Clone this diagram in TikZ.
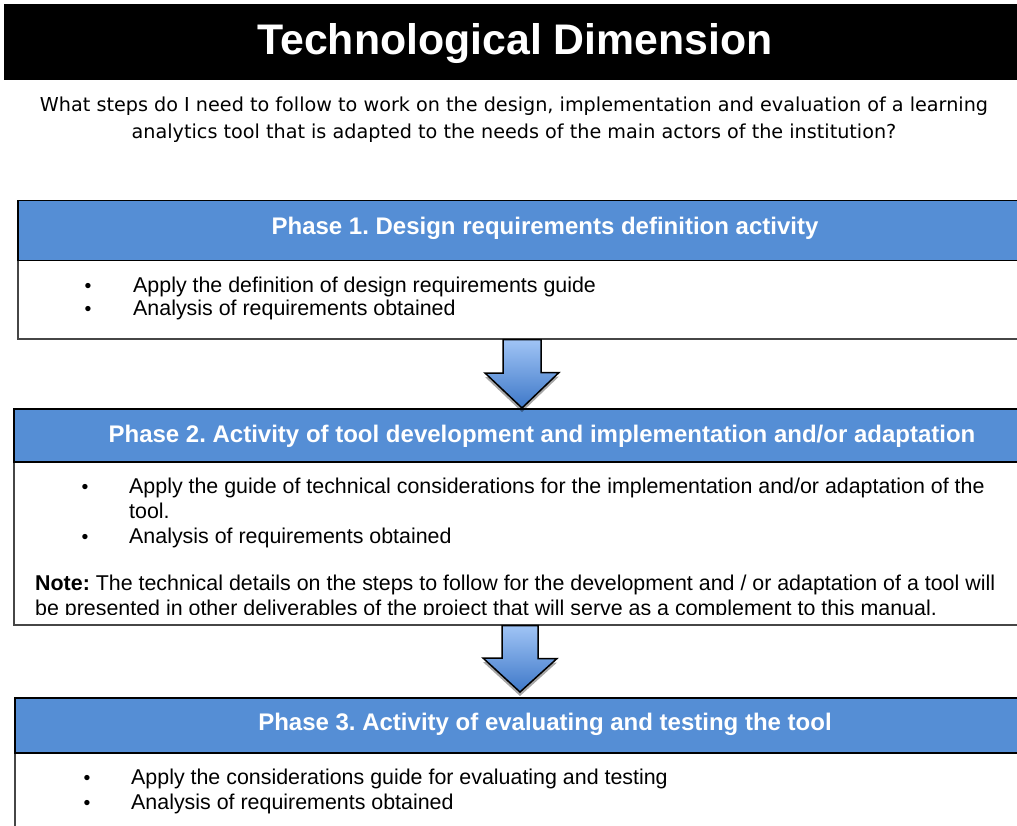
\documentclass[tikz,border=0pt]{standalone}
\usepackage{fontspec}
\setmainfont{Liberation Sans}
\newfontfamily\qfont{DejaVu Sans}
\usetikzlibrary{shadows}
\definecolor{hdrblue}{RGB}{85,142,213}
\definecolor{arrtop}{RGB}{160,196,245}
\definecolor{arrbot}{RGB}{62,120,200}
\definecolor{edgegray}{RGB}{70,70,70}
\tikzset{
  hdrbox/.style={draw=black, line width=1.5pt, fill=hdrblue, anchor=north west, minimum height=#1, minimum width=1056pt, inner sep=0pt},
  bodybox/.style={draw=edgegray, line width=1.5pt, fill=white, anchor=north west, minimum height=#1, minimum width=1056pt, inner sep=0pt},
  hdrtext/.style={text=white, anchor=base, font=\fontsize{24}{28}\selectfont\bfseries, inner sep=0pt},
  item/.style={anchor=base west, inner sep=0pt, font=\fontsize{21.4}{25}\selectfont},
  bul/.style={anchor=base, inner sep=0pt, font=\fontsize{19.5}{24}\selectfont},
  blockarrow/.style={draw=black, line width=1.5pt, top color=arrtop, bottom color=arrbot, line join=miter,
    drop shadow={shadow xshift=0pt, shadow yshift=-4pt, opacity=0.35, fill=black}},
}
\begin{document}
\frenchspacing
\begin{tikzpicture}[x=1pt,y=-1pt]
\useasboundingbox (0,0) rectangle (1017,826);
% title band
\node[fill=black, anchor=north west, minimum width=1020pt, minimum height=76pt, inner sep=0pt] (band) at (4,4) {};
\node[text=white, anchor=base, font=\fontsize{42.8}{48}\selectfont\bfseries, inner sep=0pt] (title) at (515,55) {Technological Dimension};
% question
\node[font=\qfont\fontsize{19.2}{27}\selectfont, align=center, inner sep=0pt] (question) at (514,120)
  {What steps do I need to follow to work on the design, implementation and evaluation of a learning\\
   analytics tool that is adapted to the needs of the main actors of the institution?};

% Phase 1
\node[bodybox=138pt] (b1) at (17,200) {};
\node[hdrbox=60pt] (h1) at (17,200) {};
\node[hdrtext] (t1) at (545,234.5) {Phase 1. Design requirements definition activity};
\node[bul] (b1a) at (88,292) {•};
\node[item] (i1a) at (133,292) {Apply the definition of design requirements guide};
\node[bul] (b1b) at (88,316) {•};
\node[item] (i1b) at (133,316) {Analysis of requirements obtained};

% Phase 2
\node[bodybox=216pt] (b2) at (13,408) {};
\node[hdrbox=53pt] (h2) at (13,408) {};
\node[hdrtext] (t2) at (542,442.5) {Phase 2. Activity of tool development and implementation and/or adaptation};
\node[bul] (b2a) at (85,493) {•};
\node[item] (i2a) at (129,493) {Apply the guide of technical considerations for the implementation and/or adaptation of the};
\node[item] (i2a2) at (129,518) {tool.};
\node[bul] (b2b) at (85,543) {•};
\node[item] (i2b) at (129,543) {Analysis of requirements obtained};
\begin{scope}
\clip (0,560) rectangle (1017,614);
\node[item] (n1) at (35,590) {\textbf{Note:} The technical details on the steps to follow for the development and / or adaptation of a tool will};
\node[item] (n2) at (35,615) {be presented in other deliverables of the project that will serve as a complement to this manual.};
\end{scope}

% Phase 3
\node[bodybox=200pt] (b3) at (14,697) {};
\node[hdrbox=55pt] (h3) at (14,697) {};
\node[hdrtext] (t3) at (545,730.5) {Phase 3. Activity of evaluating and testing the tool};
\node[bul] (b3a) at (87,784) {•};
\node[item] (i3a) at (131,784) {Apply the considerations guide for evaluating and testing};
\node[bul] (b3b) at (87,809) {•};
\node[item] (i3b) at (131,809) {Analysis of requirements obtained};

% block arrows
\coordinate (a1) at (522,408);
\draw[blockarrow] ([xshift=-19pt]a1 |- b1.south) -- ([xshift=19pt]a1 |- b1.south) -- ++(0,33) -- ++(18,0)
  -- (a1) -- ([xshift=-37pt,yshift=35pt]a1) -- ++(18,0) -- cycle;
\coordinate (a2) at (520,692);
\draw[blockarrow] ([xshift=-18pt]a2 |- b2.south) -- ([xshift=18pt]a2 |- b2.south) -- ++(0,33) -- ++(19,0)
  -- (a2) -- ([xshift=-37pt,yshift=34pt]a2) -- ++(19,0) -- cycle;
\end{tikzpicture}
\end{document}
